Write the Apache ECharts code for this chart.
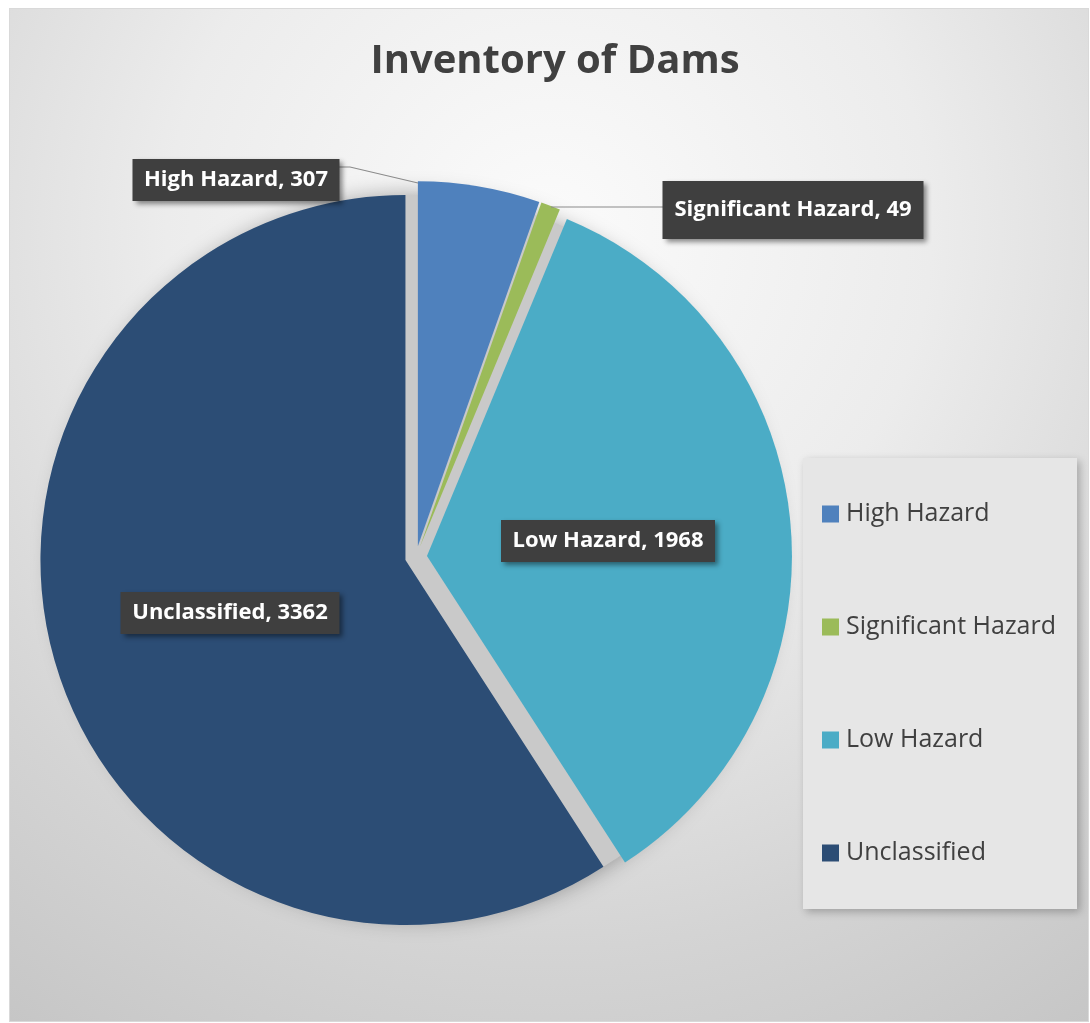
<!DOCTYPE html>
<html>
<head>
<meta charset="utf-8">
<script src="https://cdn.jsdelivr.net/npm/echarts@6/dist/echarts.min.js"></script>
<style>
html,body{margin:0;padding:0;background:#fff;}
#frame{position:absolute;left:9px;top:8px;width:1080px;height:1014px;box-sizing:border-box;border:1px solid #d9d9d9;
background:radial-gradient(circle farthest-corner at 50% 22%, #fbfbfb 0%, #ececec 40%, #d4d4d4 75%, #c6c6c6 100%);}
#chart{position:absolute;left:0;top:0;width:1090px;height:1023px;}
</style>
</head>
<body>
<div id="frame"></div>
<div id="chart"></div>
<script>
const titleText = 'Inventory of Dams';
const categories = ['High Hazard', 'Significant Hazard', 'Low Hazard', 'Unclassified'];
const values = [307, 49, 1968, 3362];
const colors = ['#4f81bd', '#9bbb59', '#4bacc6', '#2c4d75'];

const total = values.reduce((a, b) => a + b, 0);
const labelSpots = [
  {x: 236, y: 180, line: [[418, 183], [350, 167], [338, 167]]},
  {x: 793, y: 210, line: [[551, 207], [600, 207], [663, 207]]},
  {x: 608, y: 541},
  {x: 230, y: 613}
];
const pieCenter = [416, 557];
const labelFont = 'bold 22px "Open Sans"';
const labelText = i => categories[i] + ', ' + values[i];
const measureCtx = document.createElement('canvas').getContext('2d');
measureCtx.font = labelFont;
const labelWidth = i => Math.ceil(measureCtx.measureText(labelText(i)).width) + 1;

const chart = echarts.init(document.getElementById('chart'), null, {renderer: 'canvas'});
chart.setOption({
  backgroundColor: 'transparent',
  animation: false,
  title: {
    text: titleText, left: 550, textAlign: 'center', top: 37,
    textStyle: {fontFamily: 'Open Sans', fontWeight: 'bold', fontSize: 40, color: '#404040'}
  },
  legend: {
    orient: 'vertical', left: 803, top: 458,
    padding: [41, 21, 41, 19],
    backgroundColor: '#e6e6e6',
    shadowColor: 'rgba(0,0,0,0.25)', shadowBlur: 8, shadowOffsetX: 3, shadowOffsetY: 3,
    itemWidth: 17, itemHeight: 17, itemGap: 83,
    icon: 'rect',
    data: categories,
    textStyle: {fontFamily: 'Open Sans', fontSize: 25, color: '#404040', lineHeight: 30, padding: [0, 0, 0, 2]}
  },
  series: [
    {
      type: 'pie', silent: true, z: 1,
      center: pieCenter, radius: 362,
      label: {show: false}, labelLine: {show: false},
      itemStyle: {color: '#c9c9c9', shadowColor: 'rgba(0,0,0,0.35)', shadowBlur: 22},
      data: [{value: total, name: 'base'}],
      legendHoverLink: false
    },
    {
      type: 'pie', z: 2,
      center: pieCenter, radius: 365,
      startAngle: 90, clockwise: true,
      selectedMode: 'multiple', selectedOffset: 11,
      itemStyle: {borderWidth: 0},
      label: {show: false}, labelLine: {show: false},
      data: categories.map((c, i) => ({
        name: c, value: values[i], selected: true,
        itemStyle: {color: colors[i]}
      }))
    },
    {
      type: 'pie', z: 3, silent: true,
      center: pieCenter, radius: 365,
      startAngle: 90, clockwise: true,
      selectedMode: false, legendHoverLink: false,
      itemStyle: {color: 'rgba(0,0,0,0)'},
      emphasis: {disabled: true},
      label: {
        show: true, position: 'outside', overflow: 'none',
        formatter: p => labelText(p.dataIndex),
        fontFamily: 'Open Sans', fontWeight: 'bold', fontSize: 22, color: '#ffffff',
        lineHeight: 22,
        backgroundColor: '#3f3f3f', padding: [10, 11],
        shadowColor: 'rgba(0,0,0,0.45)', shadowBlur: 5, shadowOffsetX: 3, shadowOffsetY: 3
      },
      labelLine: {show: true, lineStyle: {color: '#8a8a8a', width: 1.2}},
      labelLayout: function (p) {
        const s = labelSpots[p.dataIndex];
        const o = {x: s.x, y: s.y, align: 'center', verticalAlign: 'middle', width: labelWidth(p.dataIndex)};
        if (s.line) o.labelLinePoints = s.line;
        return o;
      },
      data: categories.map((c, i) => ({
        name: c, value: values[i],
        label: i === 1 ? {padding: [18, 11]} : {},
        labelLine: {show: i < 2}
      }))
    }
  ]
});
</script>
</body>
</html>
